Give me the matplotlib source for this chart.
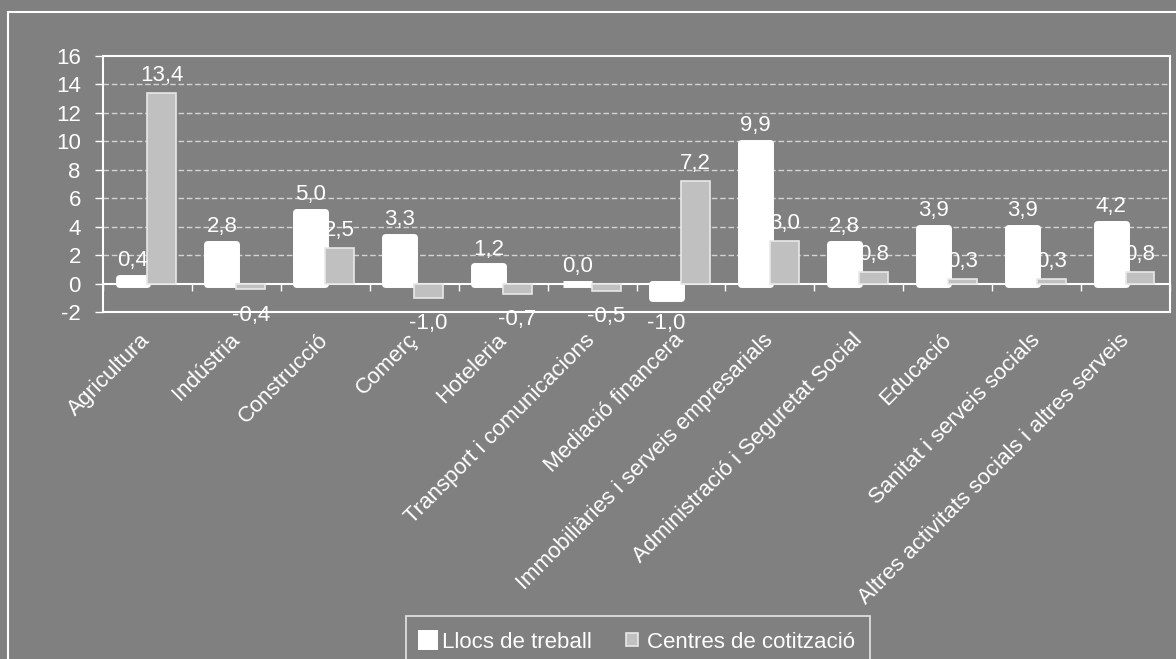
import numpy as np
import matplotlib.pyplot as plt
from matplotlib.patches import Rectangle

plt.rcParams['font.family'] = ['Liberation Sans', 'DejaVu Sans']

# dades
sectors = ["Agricultura", "Indústria", "Construcció", "Comerç", "Hoteleria",
           "Transport i comunicacions", "Mediació financera",
           "Immobiliàries i serveis empresarials",
           "Administració i Seguretat Social", "Educació",
           "Sanitat i serveis socials",
           "Altres activitats socials i altres serveis"]
llocs = [0.4, 2.8, 5.0, 3.3, 1.2, 0.0, -1.0, 9.9, 2.8, 3.9, 3.9, 4.2]
centres = [13.4, -0.4, 2.5, -1.0, -0.7, -0.5, 7.2, 3.0, 0.8, 0.3, 0.3, 0.8]
y_ticks = [-2, 0, 2, 4, 6, 8, 10, 12, 14, 16]

bg = "#808080"
fs = 16

fig = plt.figure(figsize=(11.76, 6.59), dpi=100, facecolor=bg)
ax = fig.add_axes([103/1176, 1-312/659, (1170-103)/1176, 256/659])
ax.set_facecolor(bg)

x = np.arange(len(sectors))
w = 0.325
b1 = ax.bar(x - w/2, llocs, w, color="white", edgecolor="white",
            linewidth=5, joinstyle="round", label="Llocs de treball", zorder=3)
b2 = ax.bar(x + w/2, centres, w, color="#c0c0c0", edgecolor="#e8e8e8",
            linewidth=1.2, label="Centres de cotització", zorder=3)

# etiquetes de valor
for bars, vals in [(b1, llocs), (b2, centres)]:
    for r, v in zip(bars, vals):
        txt = f"{v:.1f}".replace(".", ",")
        if v >= 0:
            ax.annotate(txt, (r.get_x() + r.get_width()/2, v), xytext=(0, 5),
                        textcoords="offset points", ha="center", va="bottom",
                        color="white", fontsize=fs, zorder=5)
        else:
            ax.annotate(txt, (r.get_x() + r.get_width()/2, v), xytext=(0, -11),
                        textcoords="offset points", ha="center", va="top",
                        color="white", fontsize=fs, zorder=5)

ax.set_xlim(-0.5, len(sectors) - 0.5)
ax.set_ylim(-2, 16)
ax.set_yticks(y_ticks)
ax.set_yticklabels([str(t) for t in y_ticks], color="white", fontsize=fs)
ax.tick_params(axis="y", colors="white", direction="out", length=6, width=1,
               pad=10)
ax.set_xticks(x)
ax.set_xticklabels(sectors, rotation=45, ha="right", va="center",
                   rotation_mode="anchor", color="white", fontsize=fs)
ax.tick_params(axis="x", length=0, pad=18)

for t in y_ticks[2:-1]:
    ax.axhline(t, color="#d4d4d4", linestyle=(0, (4, 2)), linewidth=1, zorder=1)

for s in ax.spines.values():
    s.set_color("white")
    s.set_linewidth(1.5)

# eix a zero amb marques entre categories
sec = ax.secondary_xaxis(2/18)
sec.set_xticks(np.arange(len(sectors) + 1) - 0.5)
sec.set_xticklabels([])
sec.tick_params(direction="out", length=5, width=1, colors="white")
sec.spines["bottom"].set_color("white")
sec.spines["bottom"].set_linewidth(1.5)

# marc exterior
fig.patches.append(Rectangle((8/1176, -0.1), 1.2, 1.1 - 12/659,
                             transform=fig.transFigure, fill=False,
                             edgecolor="white", linewidth=1.5))

leg = fig.legend(handles=[b1, b2], loc="upper center",
                 bbox_to_anchor=(638/1176, 1-616/659), ncol=2, frameon=True,
                 fontsize=fs, handlelength=0.55, handleheight=0.55,
                 handletextpad=0.4, columnspacing=1.5, fancybox=False,
                 borderpad=0.7, borderaxespad=0, labelcolor="white")
leg.get_frame().set_facecolor(bg)
leg.get_frame().set_edgecolor("white")
leg.get_frame().set_linewidth(1.2)

fig.savefig("out.png", dpi=100, facecolor=bg)
